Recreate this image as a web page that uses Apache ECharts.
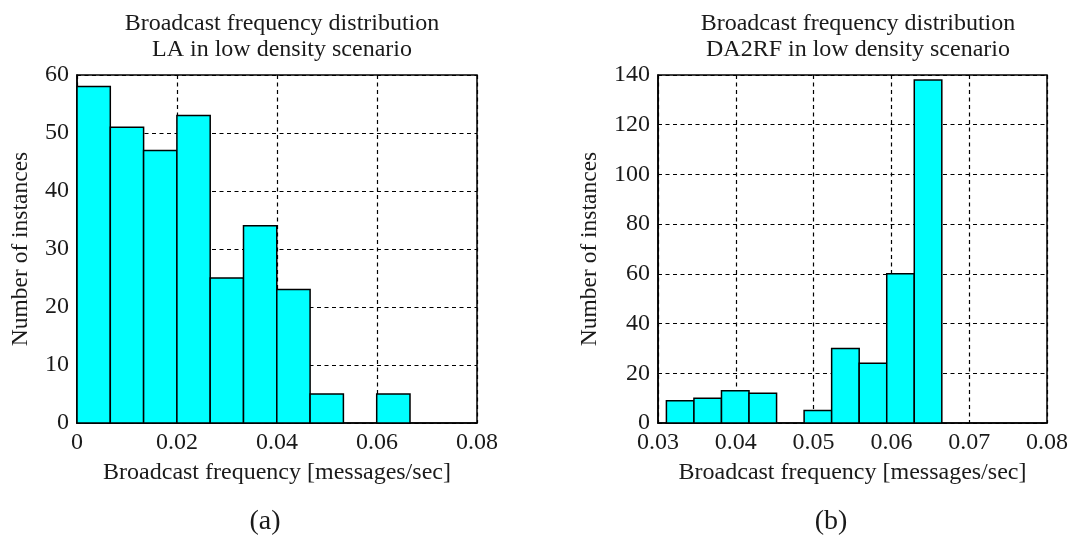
<!DOCTYPE html>
<html>
<head>
<meta charset="utf-8">
<script src="https://cdn.jsdelivr.net/npm/echarts@6/dist/echarts.min.js"></script>
<style>
html,body{margin:0;padding:0;background:#fff;}
#c{width:1075px;height:543px;}
</style>
</head>
<body>
<div id="c"></div>
<script>
// ---- Data ----
const titleLine1 = "Broadcast frequency distribution";
const leftTitle2 = "LA in low density scenario";
const rightTitle2 = "DA2RF in low density scenario";
const xAxisName = "Broadcast frequency [messages/sec]";
const yAxisName = "Number of instances";
const panelLabels = ["(a)", "(b)"];

// Left histogram (LA): bin edges and counts
const leftEdges = [0, 0.00666, 0.01332, 0.01998, 0.02664, 0.0333, 0.03996, 0.04662, 0.05328, 0.05994, 0.0666];
const leftCounts = [58, 51, 47, 53, 25, 34, 23, 5, 0, 5];
const leftXTicks = [0, 0.02, 0.04, 0.06, 0.08];
const leftYTicks = [0, 10, 20, 30, 40, 50, 60];

// Right histogram (DA2RF): bin edges and counts
const rightEdges = [0.03108, 0.03462, 0.03816, 0.0417, 0.04524, 0.04878, 0.05232, 0.05586, 0.0594, 0.06294, 0.06648];
const rightCounts = [9, 10, 13, 12, 0, 5, 30, 24, 60, 138];
const rightXTicks = [0.03, 0.04, 0.05, 0.06, 0.07, 0.08];
const rightYTicks = [0, 20, 40, 60, 80, 100, 120, 140];

// ---- Build ----
function toBins(edges, counts) {
  const out = [];
  for (let i = 0; i < counts.length; i++) out.push([edges[i], edges[i + 1], counts[i]]);
  return out;
}
const FONT = "'Liberation Serif', 'Times New Roman', serif";
const TXT = '#1a1a1a';
const FS = 24;

function renderBin(params, api) {
  const x0 = api.value(0), x1 = api.value(1), y = api.value(2);
  if (!y) return null;
  const p0 = api.coord([x0, 0]);
  const p1 = api.coord([x1, y]);
  return {
    type: 'rect',
    shape: { x: p0[0], y: p1[1], width: p1[0] - p0[0], height: p0[1] - p1[1] },
    style: { fill: '#00FFFF', stroke: '#000', lineWidth: 1.5 }
  };
}

function xAxis(gi, ticks) {
  const iv = +(ticks[1] - ticks[0]).toFixed(6);
  return {
    type: 'value', gridIndex: gi,
    min: ticks[0], max: ticks[ticks.length - 1], interval: iv,
    name: xAxisName, nameLocation: 'middle', nameGap: 38,
    nameTextStyle: { fontFamily: FONT, fontSize: FS, color: TXT },
    axisLine: { show: true, lineStyle: { color: '#000', width: 1.5 } },
    axisTick: { show: false },
    axisLabel: { fontFamily: FONT, fontSize: FS, color: TXT, margin: 8,
      formatter: v => String(+v.toFixed(4)) },
    splitLine: { show: true, lineStyle: { color: '#000', width: 1.2, type: [4, 3.5] } }
  };
}
function yAxis(gi, ticks, gap) {
  const iv = ticks[1] - ticks[0];
  return {
    type: 'value', gridIndex: gi,
    min: ticks[0], max: ticks[ticks.length - 1], interval: iv,
    name: yAxisName, nameLocation: 'middle', nameGap: gap, nameRotate: 90,
    nameTextStyle: { fontFamily: FONT, fontSize: 23.5, color: TXT },
    axisLine: { show: true, lineStyle: { color: '#000', width: 1.5 } },
    axisTick: { show: false },
    axisLabel: { fontFamily: FONT, fontSize: FS, color: TXT, margin: 8 },
    splitLine: { show: true, lineStyle: { color: '#000', width: 1.2, type: [4, 3.5] } }
  };
}

const chart = echarts.init(document.getElementById('c'), null, { renderer: 'canvas' });
chart.setOption({
  backgroundColor: '#fff',
  animation: false,
  title: [
    { text: titleLine1 + '\n' + leftTitle2, left: 277, top: 6, textAlign: 'center',
      textStyle: { fontFamily: FONT, fontSize: FS, fontWeight: 'normal', color: TXT, lineHeight: 26 } },
    { text: titleLine1 + '\n' + rightTitle2, left: 853, top: 6, textAlign: 'center',
      textStyle: { fontFamily: FONT, fontSize: FS, fontWeight: 'normal', color: TXT, lineHeight: 26 } }
  ],
  grid: [
    { left: 77, top: 75, width: 400, height: 348, show: true, borderColor: '#000', borderWidth: 1.5, backgroundColor: 'transparent' },
    { left: 658, top: 75, width: 389, height: 348, show: true, borderColor: '#000', borderWidth: 1.5, backgroundColor: 'transparent' }
  ],
  xAxis: [xAxis(0, leftXTicks), xAxis(1, rightXTicks)],
  yAxis: [yAxis(0, leftYTicks, 44), yAxis(1, rightYTicks, 56)],
  series: [
    { type: 'custom', xAxisIndex: 0, yAxisIndex: 0, renderItem: renderBin,
      encode: { x: [0, 1], y: 2 }, data: toBins(leftEdges, leftCounts) },
    { type: 'custom', xAxisIndex: 1, yAxisIndex: 1, renderItem: renderBin,
      encode: { x: [0, 1], y: 2 }, data: toBins(rightEdges, rightCounts) }
  ],
  graphic: [
    { type: 'text', x: 265, y: 522, style: { text: panelLabels[0], fontFamily: FONT, fontSize: 28, fill: TXT, align: 'center', verticalAlign: 'middle' } },
    { type: 'text', x: 831, y: 522, style: { text: panelLabels[1], fontFamily: FONT, fontSize: 28, fill: TXT, align: 'center', verticalAlign: 'middle' } }
  ]
});
</script>
</body>
</html>
